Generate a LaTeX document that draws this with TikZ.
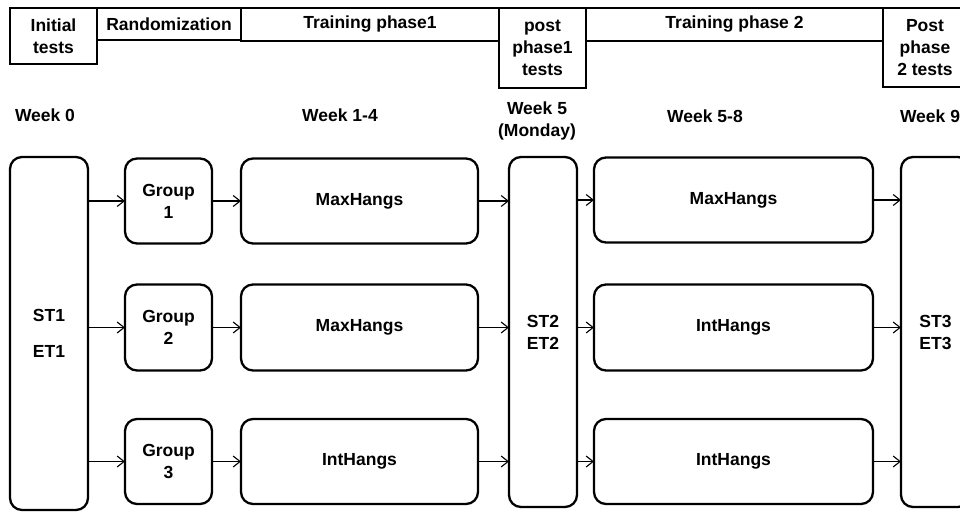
\documentclass[tikz,border=0pt]{standalone}
\usepackage{fontspec}
\setmainfont{Liberation Sans}
\usetikzlibrary{positioning,arrows.meta}

\begin{document}
\begin{tikzpicture}[
        x=1pt, y=-1pt,
        font=\bfseries\fontsize{17.5}{22}\selectfont,
        head/.style={draw, rectangle, line width=1.1pt, anchor=north west, inner sep=0pt, outer sep=0pt, align=center},
        box/.style={draw, rectangle, rounded corners=12pt, line width=2.3pt, inner sep=0pt, outer sep=0pt, align=center},
        week/.style={inner sep=0pt, align=center},
        arrow/.style={-{Straight Barb[length=7pt,width=11pt]}, line width=1.1pt}
    ]
        \useasboundingbox (0,0) rectangle (960,513);

        % Header row
        \node[head, minimum width=87pt, minimum height=56pt] (initial) at (10,8) {Initial\\tests};
        \node[head, minimum width=144pt, minimum height=32pt] (random) at (initial.north east) {Randomization};
        \node[head, minimum width=258pt, minimum height=33pt] (phaseone) at (random.north east) {Training phase1};
        \node[head, minimum width=87pt, minimum height=80pt] (postone) at (phaseone.north east) {post\\phase1\\tests};
        \node[head, minimum width=297pt, minimum height=33pt] (phasetwo) at (postone.north east) {Training phase 2};
        \node[head, minimum width=84pt, minimum height=79pt] (posttwo) at (phasetwo.north east) {Post\\phase\\2 tests};

        % Week labels
        \node[week] (week0) at (45,115) {Week 0};
        \node[week] (week14) at (340,115) {Week 1-4};
        \node[week] (week5) at (537,121) {Week 5\\(Monday)};
        \node[week] (week58) at (705,116) {Week 5-8};
        \node[week] (week9) at (930,116) {Week 9};

        % Test blocks
        \node[box, minimum width=78pt, minimum height=353pt] (st1) at (49,333.5) {ST1\\[14pt]ET1};
        \node[box, minimum width=68pt, minimum height=350pt] (st2) at (543,332) {ST2\\ET2};
        \node[box, minimum width=69pt, minimum height=350pt] (st3) at (935.5,332) {ST3\\ET3};

        % Groups
        \node[box, minimum width=87pt, minimum height=85pt] (group1) at (168.5,201) {Group\\1};
        \node[box, minimum width=87pt, minimum height=86pt] (group2) at (168.5,327.5) {Group\\2};
        \node[box, minimum width=87pt, minimum height=85pt] (group3) at (168.5,461.5) {Group\\3};

        % Training phase 1
        \node[box, minimum width=237pt, minimum height=85pt, right=29pt of group1] (trainA1) {MaxHangs};
        \node[box, minimum width=237pt, minimum height=86pt, right=29pt of group2] (trainA2) {MaxHangs};
        \node[box, minimum width=237pt, minimum height=85pt, right=29pt of group3] (trainA3) {IntHangs};

        % Training phase 2
        \node[box, minimum width=279pt, minimum height=85pt] (trainB1) at (733.5,200) {MaxHangs};
        \node[box, minimum width=279pt, minimum height=86pt] (trainB2) at (733.5,327.5) {IntHangs};
        \node[box, minimum width=279pt, minimum height=85pt] (trainB3) at (733.5,461.5) {IntHangs};

        % Arrows
        \draw[arrow] (st1.east |- group1.west) -- (group1.west);
        \draw[arrow] (st1.east |- group2.west) -- (group2.west);
        \draw[arrow] (st1.east |- group3.west) -- (group3.west);
        \draw[arrow] (group1) -- (trainA1);
        \draw[arrow] (group2) -- (trainA2);
        \draw[arrow] (group3) -- (trainA3);
        \draw[arrow] (trainA1.east) -- (trainA1.east -| st2.west);
        \draw[arrow] (trainA2.east) -- (trainA2.east -| st2.west);
        \draw[arrow] (trainA3.east) -- (trainA3.east -| st2.west);
        \draw[arrow] (st2.east |- trainB1.west) -- (trainB1.west);
        \draw[arrow] (st2.east |- trainB2.west) -- (trainB2.west);
        \draw[arrow] (st2.east |- trainB3.west) -- (trainB3.west);
        \draw[arrow] (trainB1.east) -- (trainB1.east -| st3.west);
        \draw[arrow] (trainB2.east) -- (trainB2.east -| st3.west);
        \draw[arrow] (trainB3.east) -- (trainB3.east -| st3.west);
\end{tikzpicture}
\end{document}
